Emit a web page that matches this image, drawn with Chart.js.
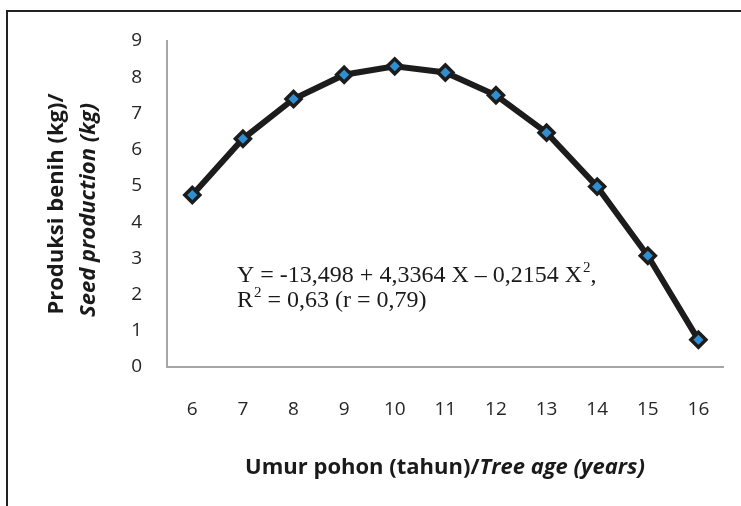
<!DOCTYPE html>
<html>
<head>
<meta charset="utf-8">
<script src="https://cdn.jsdelivr.net/npm/chart.js@4"></script>
<style>
  html, body { margin: 0; padding: 0; background: #fff; }
  #wrap { width: 741px; height: 506px; position: relative; }
</style>
</head>
<body>
<div id="wrap"><canvas id="chart"></canvas></div>
<script>
// tree age (years) and seed production (kg)
const ages = ['6', '7', '8', '9', '10', '11', '12', '13', '14', '15', '16'];
const seedKg = [4.75, 6.3, 7.4, 8.07, 8.3, 8.13, 7.5, 6.47, 4.98, 3.07, 0.75];
const yTicks = [0, 1, 2, 3, 4, 5, 6, 7, 8, 9];

const sansFont = '"Open Sans", Lato, sans-serif';
const serifFont = '"Liberation Serif", "Times New Roman", serif';

// frame, axis titles and regression text
const decorPlugin = {
    id: 'decor',
    afterDraw(chart) {
        const ctx = chart.ctx;
        ctx.save();
        ctx.strokeStyle = '#222';
        ctx.lineWidth = 2;
        ctx.strokeRect(7, 11, 760, 520);

        // x title, mixed bold / bold italic
        ctx.fillStyle = '#1a1a1a';
        ctx.textBaseline = 'alphabetic';
        const p1 = 'Umur pohon (tahun)/';
        const p2 = 'Tree age (years)';
        ctx.font = 'bold 22px ' + sansFont;
        const w1 = ctx.measureText(p1).width;
        ctx.font = 'italic bold 22px ' + sansFont;
        const w2 = ctx.measureText(p2).width;
        let x = 445 - (w1 + w2) / 2;
        ctx.font = 'bold 22px ' + sansFont;
        ctx.fillText(p1, x, 474);
        ctx.font = 'italic bold 22px ' + sansFont;
        ctx.fillText(p2, x + w1, 474);

        // y title, two rotated lines
        ctx.save();
        ctx.rotate(-Math.PI / 2);
        ctx.textAlign = 'center';
        ctx.font = 'bold 22px ' + sansFont;
        ctx.fillText('Produksi benih (kg)/', -204, 63);
        ctx.font = 'italic bold 22px ' + sansFont;
        ctx.fillText('Seed production (kg)', -210, 95);
        ctx.restore();

        // regression equation
        ctx.font = '24px ' + serifFont;
        ctx.textAlign = 'left';
        let tx = 237;
        const l1 = 'Y = -13,498 + 4,3364 X \u2013 0,2154 X';
        ctx.fillText(l1, tx, 282);
        tx += ctx.measureText(l1).width;
        ctx.font = '15px ' + serifFont;
        ctx.fillText('2', tx + 1, 272);
        tx += ctx.measureText('2').width + 1;
        ctx.font = '24px ' + serifFont;
        ctx.fillText(',', tx, 282);

        tx = 237;
        ctx.fillText('R', tx, 307);
        tx += ctx.measureText('R').width;
        ctx.font = '15px ' + serifFont;
        ctx.fillText('2', tx + 1, 297);
        tx += ctx.measureText('2').width + 1;
        ctx.font = '24px ' + serifFont;
        ctx.fillText(' = 0,63 (r = 0,79)', tx, 307);
        ctx.restore();
    }
};

new Chart(document.getElementById('chart'), {
    type: 'line',
    data: {
        labels: ages,
        datasets: [{
            data: seedKg,
            borderColor: '#1c1c1c',
            borderWidth: 6,
            pointStyle: 'rectRot',
            pointRadius: 7.5,
            pointBorderWidth: 3.5,
            pointBackgroundColor: '#2f8fd0',
            pointBorderColor: '#1c1c1c',
            tension: 0
        }]
    },
    options: {
        responsive: true,
        maintainAspectRatio: false,
        animation: false,
        layout: { padding: { top: 41, right: 16, left: 0, bottom: 0 } },
        plugins: { legend: { display: false }, tooltip: { enabled: false } },
        scales: {
            x: {
                offset: true,
                grid: { display: false, drawTicks: false },
                border: { color: '#a6a6a6', width: 2 },
                ticks: { color: '#262626', font: { family: sansFont, size: 19 }, padding: 31, maxRotation: 0 },
                afterFit(scale) { scale.height = 139; }
            },
            y: {
                min: 0,
                max: 9,
                afterBuildTicks(scale) { scale.ticks = yTicks.map(v => ({ value: v })); },
                grid: { display: false, drawOnChartArea: false, drawTicks: true, tickLength: 9, tickColor: '#a6a6a6', tickWidth: 3 },
                border: { color: '#a6a6a6', width: 2 },
                ticks: { color: '#262626', font: { family: sansFont, size: 19 }, padding: 16 },
                afterFit(scale) { scale.width = 167; }
            }
        }
    },
    plugins: [decorPlugin]
});
</script>
</body>
</html>
